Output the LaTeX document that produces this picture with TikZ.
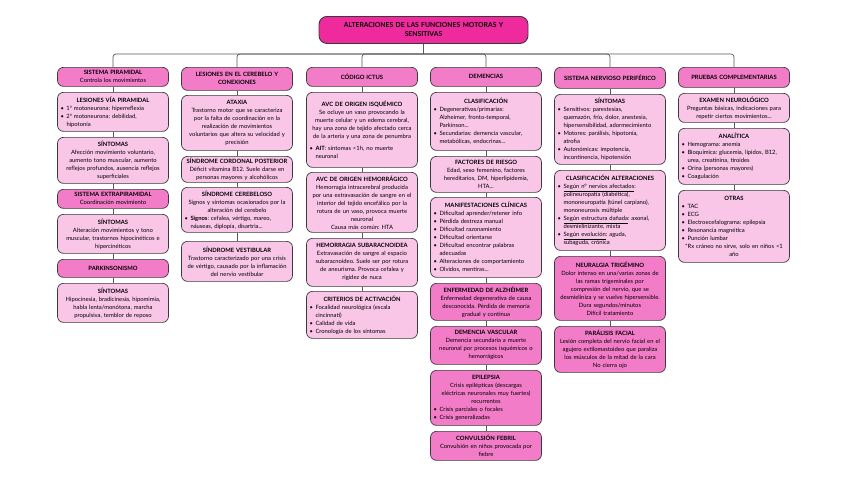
\documentclass[tikz,border=0pt]{standalone}
\usepackage{fontspec}
\setmainfont{Lato}

% bullet item with hanging indent
\newcommand{\itm}{\par\hangindent=6pt\hangafter=1\noindent\makebox[6pt][l]{\textbullet}}

\begin{document}
\begin{tikzpicture}[x=1pt, y=-1pt,
    % Boxes and links
    box/.style={draw=edge, line width=0.7pt, rounded corners=6pt, fill=soft,
        anchor=north, text width=105pt, inner xsep=3pt, inner ysep=1pt,
        align=center, font=\fontsize{5.85}{8}\selectfont\frenchspacing},
    head/.style={box, fill=strong},
    link/.style={draw=edge!85, line width=0.7pt},
]
    % Colors
    \definecolor{hot}{HTML}{EE2A9C}
    \definecolor{strong}{HTML}{F27CC7}
    \definecolor{soft}{HTML}{FAC6E8}
    \definecolor{edge}{HTML}{3A3A3A}

    % Frame
    \useasboundingbox[fill=white] (0,0) rectangle (848,477);

    \node[box, fill=hot, text width=203pt, minimum height=27pt, rounded corners=8pt,
        line width=0.9pt, font=\fontsize{6.8}{9}\selectfont\bfseries] (title) at (423.5,16)
        {ALTERACIONES DE LAS FUNCIONES MOTORAS Y\\ SENSITIVAS};

    % Sistema piramidal
    \node[head, minimum height=19pt] (piram) at (113,67)
        {\textbf{SISTEMA PIRAMIDAL}\\ Controla los movimientos};
    \node[box, minimum height=39pt] (lesvia) at (113,92)
        {\textbf{LESIONES VÍA PIRAMIDAL}\par\raggedright
        \itm 1ª motoneurona: hiperreflexia
        \itm 2ª motoneurona: debilidad,\newline hipotonía\par};
    \node[box, minimum height=46pt] (sintA) at (113,137)
        {\textbf{SÍNTOMAS}\\ Afección movimiento voluntario,\\ aumento tono muscular, aumento\\
        reflejos profundos, ausencia reflejos\\ superficiales};
    \node[head, minimum height=19pt] (extrap) at (113,189)
        {\textbf{SISTEMA EXTRAPIRAMIDAL}\\ Coordinación movimiento};
    \node[box, minimum height=39pt] (sintB) at (113,214)
        {\textbf{SÍNTOMAS}\\ Alteración movimientos y tono\\ muscular, trastornos hipocinéticos e\\ hipercinéticos};
    \node[head, minimum height=18pt] (parkin) at (113,259) {\textbf{PARKINSONISMO}};
    \node[box, minimum height=39pt] (sintC) at (113,283)
        {\textbf{SÍNTOMAS}\\ Hipocinesia, bradicinesia, hipomimia,\\ habla lenta/monótona, marcha\\ propulsiva, temblor de reposo};

    % Cerebelo
    \node[head, minimum height=23pt] (cereb) at (237,67)
        {\textbf{LESIONES EN EL CEREBELO Y\\ CONEXIONES}};
    \node[box, minimum height=55pt] (ataxia) at (237,95)
        {\textbf{ATAXIA}\\ Trastorno motor que se caracteriza\\ por la falta de coordinación en la\\
        realización de movimientos\\ voluntarios que altera su velocidad y\\ precisión};
    \node[box, minimum height=26pt] (cordon) at (237,156)
        {\textbf{SÍNDROME CORDONAL POSTERIOR}\\ Déficit vitamina B12. Suele darse en\\ personas mayores y alcohólicos};
    \node[box, minimum height=45pt] (cerebel) at (237,187)
        {\textbf{SÍNDROME CEREBELOSO}\\ Signos y síntomas ocasionados por la\\ alteración del cerebelo\par\raggedright
        \itm \textbf{Signos}: cefalea, vértigo, mareo,\newline náuseas, diplopía, disartria...\par};
    \node[box, minimum height=40pt] (vestib) at (237,241)
        {\textbf{SÍNDROME VESTIBULAR}\\ Trastorno caracterizado por una crisis\\ de vértigo, causado por la inflamación\\ del nervio vestibular};

    % Ictus
    \node[head, minimum height=19pt] (ictus) at (362,67) {\textbf{CÓDIGO ICTUS}};
    \node[box, minimum height=75pt] (isq) at (362,92)
        {\textbf{AVC DE ORIGEN ISQUÉMICO}\\ Se ocluye un vaso provocando la\\ muerte celular y un edema cerebral,\\
        hay una zona de tejido afectado cerca\\ de la arteria y una zona de penumbra\par\vspace{4pt}\raggedright
        \itm \textbf{AIT}: síntomas <1h, no muerte\newline neuronal\par};
    \node[box, minimum height=60pt] (hemo) at (362,172)
        {\textbf{AVC DE ORIGEN HEMORRÁGICO}\\ Hemorragia intracerebral producida\\ por una extravasación de sangre en el\\
        interior del tejido encefálico por la\\ rotura de un vaso, provoca muerte\\ neuronal\\ Causa más común: HTA};
    \node[box, minimum height=48pt] (subarac) at (362,238)
        {\textbf{HEMORRAGIA SUBARACNOIDEA}\\ Extravasación de sangre al espacio\\ subaracnoideo. Suele ser por rotura\\
        de aneurisma. Provoca cefalea y\\ rigidez de nuca};
    \node[box, minimum height=47pt] (crit) at (362,291)
        {\textbf{CRITERIOS DE ACTIVACIÓN}\par\raggedright
        \itm Focalidad neurológica (escala\newline cincinnati)
        \itm Calidad de vida
        \itm Cronología de los síntomas\par};

    % Demencias
    \node[head, minimum height=19pt] (demen) at (486,67) {\textbf{DEMENCIAS}};
    \node[box, minimum height=58pt] (clasif) at (486,92)
        {\textbf{CLASIFICACIÓN}\par\raggedright
        \itm Degenerativas/primarias:\newline Alzheimer, fronto-temporal,\newline Parkinson...
        \itm Secundarias: demencia vascular,\newline metabólicas, endocrinas...\par};
    \node[box, minimum height=36pt] (factor) at (486,156)
        {\textbf{FACTORES DE RIESGO}\\ Edad, sexo femenino, factores\\ hereditarios, DM, hiperlipidemia,\\ HTA...};
    \node[box, minimum height=80pt] (manif) at (486,197)
        {\textbf{MANIFESTACIONES CLÍNICAS}\par\raggedright
        \itm Dificultad aprender/retener info
        \itm Pérdida destreza manual
        \itm Dificultad razonamiento
        \itm Dificultad orientarse
        \itm Dificultad encontrar palabras\newline adecuadas
        \itm Alteraciones de comportamiento
        \itm Olvidos, mentiras...\par};
    \node[head, minimum height=37pt] (alzh) at (486,283)
        {\textbf{ENFERMEDAD DE ALZHÉIMER}\\ Enfermedad degenerativa de causa\\ desconocida. Pérdida de memoria\\ gradual y continua};
    \node[head, minimum height=38pt] (vasc) at (486,326)
        {\textbf{DEMENCIA VASCULAR}\\ Demencia secundaria a muerte\\ neuronal por procesos isquémicos o\\ hemorrágicos};
    \node[head, minimum height=55pt] (epil) at (486,370)
        {\textbf{EPILEPSIA}\\ Crisis epilépticas (descargas\\ eléctricas neuronales muy fuertes)\\ recurrentes\par\raggedright
        \itm Crisis parciales o focales
        \itm Crisis generalizadas\par};
    \node[head, minimum height=29pt] (conv) at (486,431)
        {\textbf{CONVULSIÓN FEBRIL}\\ Convulsión en niños provocada por\\ fiebre};

    % Sistema nervioso periferico
    \node[head, minimum height=21pt] (snp) at (610,67) {\textbf{SISTEMA NERVIOSO PERIFÉRICO}};
    \node[box, minimum height=70pt] (sintD) at (610,94)
        {\textbf{SÍNTOMAS}\par\raggedright
        \itm Sensitivos: parestesias,\newline quemazón, frío, dolor, anestesia,\newline hipersensibilidad, adormecimiento
        \itm Motores: parálisis, hipotonía,\newline atrofia
        \itm Autonómicas: impotencia,\newline incontinencia, hipotensión\par};
    \node[box, minimum height=80pt] (clasalt) at (610,170)
        {\textbf{CLASIFICACIÓN ALTERACIONES}\par\raggedright
        \itm \underline{Según nº nervios afectados}:\newline polineuropatía (diabética),\newline
        mononeuropatía (túnel carpiano),\newline mononeurosis múltiple
        \itm \underline{Según estructura dañada}: axonal,\newline desmielinizante, mixta
        \itm \underline{Según evolución}: aguda,\newline subaguda, crónica\par};
    \node[head, minimum height=64pt] (neural) at (610,256)
        {\textbf{NEURALGIA TRIGÉMINO}\\ Dolor intenso en una/varias zonas de\\ las ramas trigeminales por\\
        compresión del nervio, que se\\ desmieliniza y se vuelve hipersensible.\\ Dura segundos/minutos\\ Difícil tratamiento};
    \node[head, minimum height=46pt] (paral) at (610,326)
        {\textbf{PARÁLISIS FACIAL}\\ Lesión completa del nervio facial en el\\ agujero estilomastoideo que paraliza\\
        los músculos de la mitad de la cara\\ *No cierra ojo};

    % Pruebas
    \node[head, minimum height=20pt] (prueb) at (734,67) {\textbf{PRUEBAS COMPLEMENTARIAS}};
    \node[box, minimum height=29pt] (examen) at (734,93)
        {\textbf{EXAMEN NEUROLÓGICO}\\ Preguntas básicas, indicaciones para\\ repetir ciertos movimientos...};
    \node[box, minimum height=56pt] (anal) at (734,128)
        {\textbf{ANALÍTICA}\par\raggedright
        \itm Hemograma: anemia
        \itm Bioquímica: glucemia, lípidos, B12,\newline urea, creatinina, tiroides
        \itm Orina (personas mayores)
        \itm Coagulación\par};
    \node[box, minimum height=72pt] (otras) at (734,190)
        {\textbf{OTRAS}\par\raggedright
        \itm TAC
        \itm ECG
        \itm Electroecefalograma: epilepsia
        \itm Resonancia magnética
        \itm Punción lumbar\par\centering
        *Rx cráneo no sirve, solo en niños <1\\ año};

    % Links
    \coordinate (hub) at (423.5,54);
    \draw[link] (title.south) -- (hub);
    \foreach \c in {piram,cereb,ictus,demen,snp,prueb}
        \draw[link, rounded corners=3pt] (hub) -| (\c.north);
    \foreach \a/\b in {piram/lesvia, lesvia/sintA, sintA/extrap, extrap/sintB, sintB/parkin, parkin/sintC,
            cereb/ataxia, ataxia/cordon, cordon/cerebel, cerebel/vestib,
            ictus/isq, isq/hemo, hemo/subarac, subarac/crit,
            demen/clasif, clasif/factor, factor/manif, manif/alzh, alzh/vasc, vasc/epil, epil/conv,
            snp/sintD, sintD/clasalt, clasalt/neural, neural/paral,
            prueb/examen, examen/anal, anal/otras}
        \draw[link] (\a.south) -- (\b.north);
\end{tikzpicture}
\end{document}
